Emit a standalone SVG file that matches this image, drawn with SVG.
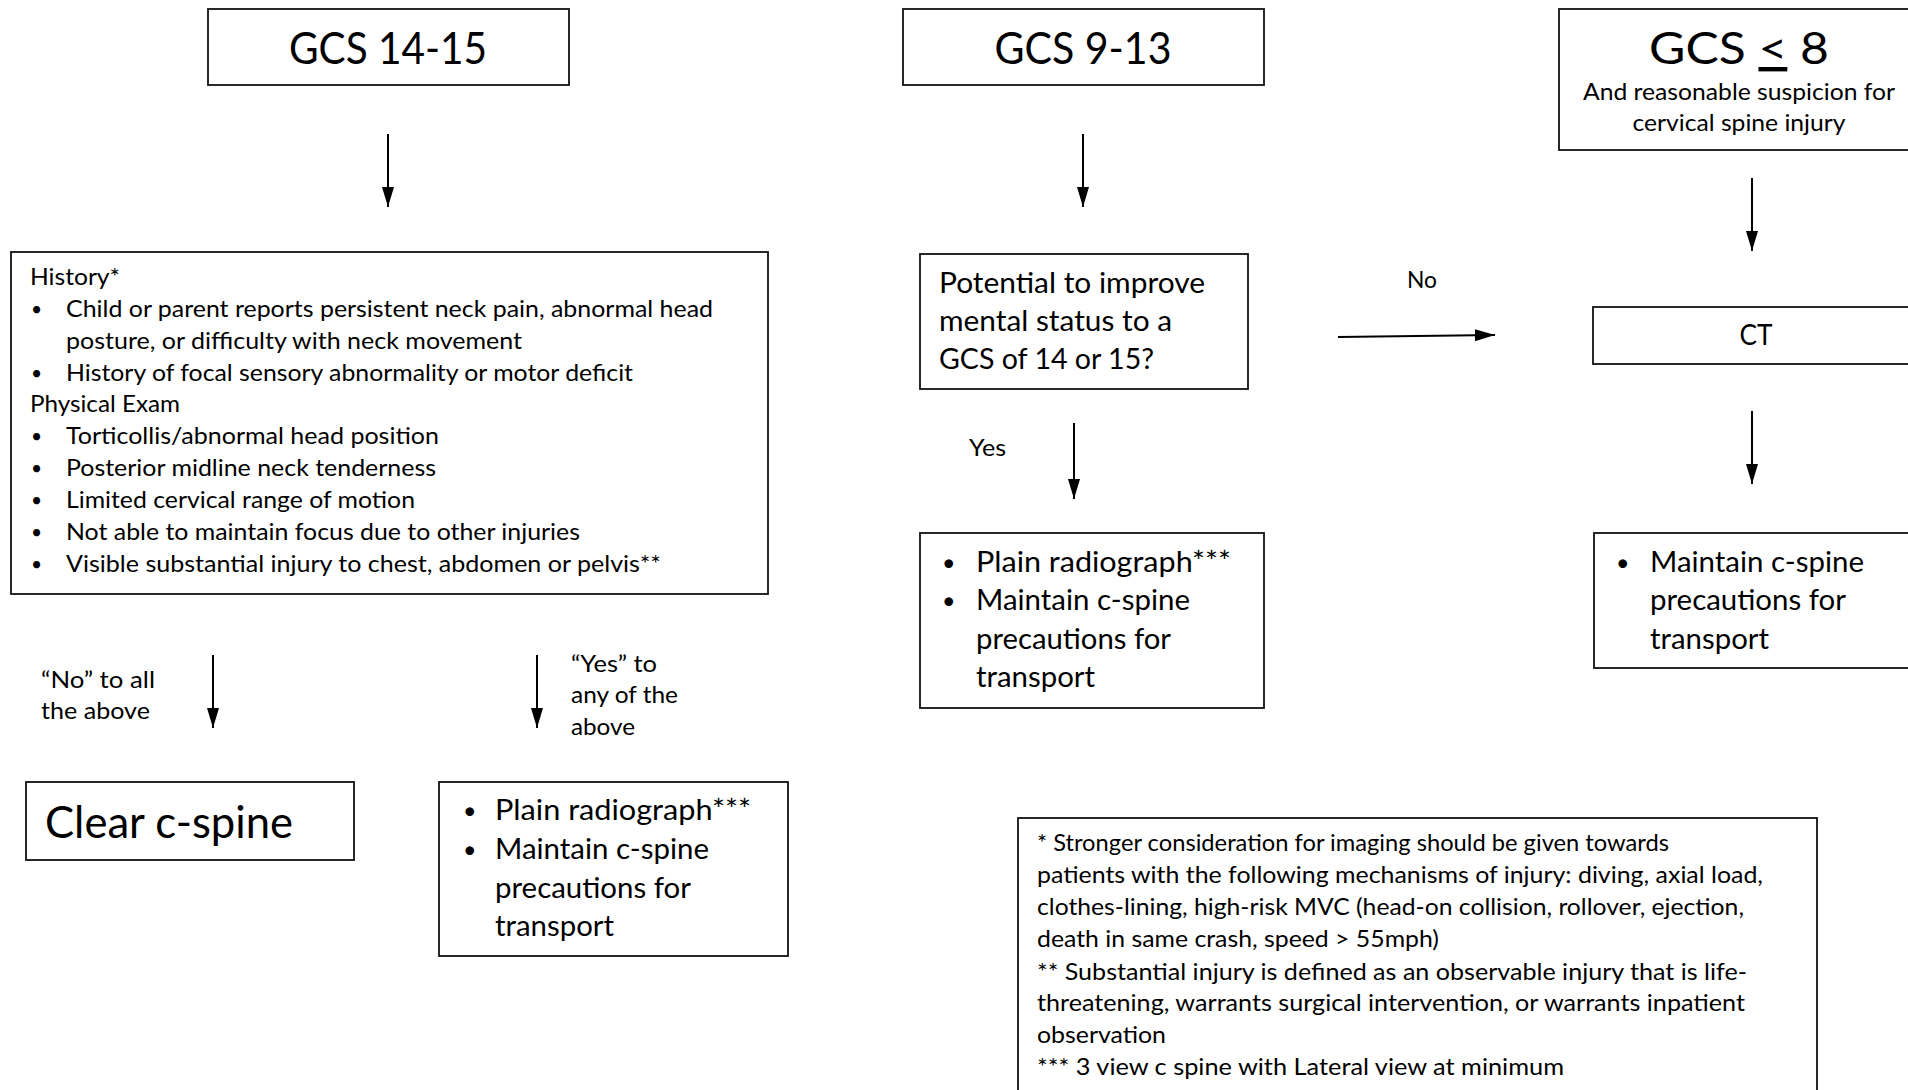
<svg xmlns="http://www.w3.org/2000/svg" width="1908" height="1090" viewBox="0 0 1908 1090">
<style>
.box{fill:#fff;stroke:#111;stroke-width:1.8}
.t{font-family:Lato,"Liberation Sans",sans-serif;fill:#000}
.title{font-size:44px}
.body{font-size:24px}
.mid{font-size:29px}
.big{font-size:44px}
.b{font-size:0.8em}
.conn{stroke:#000;stroke-width:2;fill:none}
</style>
<defs>
<marker id="ah" viewBox="0 0 20 12" refX="20" refY="6" markerWidth="20" markerHeight="12" markerUnits="userSpaceOnUse" orient="auto">
<path d="M0,0 L20,6 L0,12 Z" fill="#000"/>
</marker>
</defs>
<rect width="1908" height="1090" fill="#fff"/>

<g id="connectors">
<line class="conn" x1="388" y1="134" x2="388" y2="207" marker-end="url(#ah)"/>
<line class="conn" x1="213" y1="655" x2="213" y2="728" marker-end="url(#ah)"/>
<line class="conn" x1="537" y1="655" x2="537" y2="728" marker-end="url(#ah)"/>
<line class="conn" x1="1083" y1="134" x2="1083" y2="207" marker-end="url(#ah)"/>
<line class="conn" x1="1074" y1="423" x2="1074" y2="499" marker-end="url(#ah)"/>
<line class="conn" x1="1338" y1="337" x2="1495" y2="335" stroke-width="3" marker-end="url(#ah)"/>
<line class="conn" x1="1752" y1="178" x2="1752" y2="251" marker-end="url(#ah)"/>
<line class="conn" x1="1752" y1="411" x2="1752" y2="484" marker-end="url(#ah)"/>
<text class="t body" x="41" y="688" textLength="114" lengthAdjust="spacingAndGlyphs">“No” to all</text>
<text class="t body" x="41" y="719" textLength="109" lengthAdjust="spacingAndGlyphs">the above</text>
<text class="t body" x="571" y="672" textLength="86" lengthAdjust="spacingAndGlyphs">“Yes” to</text>
<text class="t body" x="571" y="703" textLength="107" lengthAdjust="spacingAndGlyphs">any of the</text>
<text class="t body" x="571" y="735" textLength="64" lengthAdjust="spacingAndGlyphs">above</text>
<text class="t body" x="969" y="456" textLength="37" lengthAdjust="spacingAndGlyphs">Yes</text>
<text class="t body" x="1407" y="288" textLength="30" lengthAdjust="spacingAndGlyphs">No</text>
</g>

<g id="gcs1415">
<rect class="box" x="208" y="9" width="361" height="76"/>
<text class="t title" x="388" y="64" text-anchor="middle" textLength="198" lengthAdjust="spacingAndGlyphs">GCS 14-15</text>
</g>

<g id="history">
<rect class="box" x="11" y="252" width="757" height="342"/>
<g class="t body">
<text x="30" y="285" textLength="90" lengthAdjust="spacingAndGlyphs">History*</text>
<text class="b" x="31" y="316">•</text>
<text x="66" y="317" textLength="647" lengthAdjust="spacingAndGlyphs">Child or parent reports persistent neck pain, abnormal head</text>
<text x="66" y="349" textLength="456" lengthAdjust="spacingAndGlyphs">posture, or difficulty with neck movement</text>
<text class="b" x="31" y="380">•</text>
<text x="66" y="381" textLength="567" lengthAdjust="spacingAndGlyphs">History of focal sensory abnormality or motor deficit</text>
<text x="30" y="412" textLength="150" lengthAdjust="spacingAndGlyphs">Physical Exam</text>
<text class="b" x="31" y="443">•</text>
<text x="66" y="444" textLength="373" lengthAdjust="spacingAndGlyphs">Torticollis/abnormal head position</text>
<text class="b" x="31" y="475">•</text>
<text x="66" y="476" textLength="370" lengthAdjust="spacingAndGlyphs">Posterior midline neck tenderness</text>
<text class="b" x="31" y="507">•</text>
<text x="66" y="508" textLength="349" lengthAdjust="spacingAndGlyphs">Limited cervical range of motion</text>
<text class="b" x="31" y="539">•</text>
<text x="66" y="540" textLength="514" lengthAdjust="spacingAndGlyphs">Not able to maintain focus due to other injuries</text>
<text class="b" x="31" y="571">•</text>
<text x="66" y="572" textLength="595" lengthAdjust="spacingAndGlyphs">Visible substantial injury to chest, abdomen or pelvis**</text>
</g>
</g>

<g id="clear">
<rect class="box" x="26" y="782" width="328" height="78"/>
<text class="t big" x="45" y="838" textLength="248" lengthAdjust="spacingAndGlyphs">Clear c-spine</text>
</g>

<g id="radiograph-left">
<rect class="box" x="439" y="782" width="349" height="174"/>
<g class="t mid">
<text class="b" x="463" y="819">•</text>
<text x="495" y="820" textLength="256" lengthAdjust="spacingAndGlyphs">Plain radiograph***</text>
<text class="b" x="463" y="858">•</text>
<text x="495" y="859" textLength="214" lengthAdjust="spacingAndGlyphs">Maintain c-spine</text>
<text x="495" y="898" textLength="196" lengthAdjust="spacingAndGlyphs">precautions for</text>
<text x="495" y="936" textLength="119" lengthAdjust="spacingAndGlyphs">transport</text>
</g>
</g>

<g id="gcs913">
<rect class="box" x="903" y="9" width="361" height="76"/>
<text class="t title" x="1083" y="64" text-anchor="middle" textLength="177" lengthAdjust="spacingAndGlyphs">GCS 9-13</text>
</g>

<g id="potential">
<rect class="box" x="920" y="254" width="328" height="135"/>
<g class="t mid">
<text x="939" y="293" textLength="266" lengthAdjust="spacingAndGlyphs">Potential to improve</text>
<text x="939" y="331" textLength="233" lengthAdjust="spacingAndGlyphs">mental status to a</text>
<text x="939" y="369" textLength="215" lengthAdjust="spacingAndGlyphs">GCS of 14 or 15?</text>
</g>
</g>

<g id="radiograph-mid">
<rect class="box" x="920" y="533" width="344" height="175"/>
<g class="t mid">
<text class="b" x="942" y="571">•</text>
<text x="976" y="572" textLength="255" lengthAdjust="spacingAndGlyphs">Plain radiograph***</text>
<text class="b" x="942" y="609">•</text>
<text x="976" y="610" textLength="214" lengthAdjust="spacingAndGlyphs">Maintain c-spine</text>
<text x="976" y="649" textLength="195" lengthAdjust="spacingAndGlyphs">precautions for</text>
<text x="976" y="687" textLength="119" lengthAdjust="spacingAndGlyphs">transport</text>
</g>
</g>

<g id="gcs8">
<rect class="box" x="1559" y="9" width="360" height="141"/>
<text class="t title" x="1739" y="64" text-anchor="middle" textLength="180" lengthAdjust="spacingAndGlyphs">GCS <tspan text-decoration="underline">&lt;</tspan> 8</text>
<text class="t body" x="1739" y="100" text-anchor="middle" textLength="312" lengthAdjust="spacingAndGlyphs">And reasonable suspicion for</text>
<text class="t body" x="1739" y="131" text-anchor="middle" textLength="213" lengthAdjust="spacingAndGlyphs">cervical spine injury</text>
</g>

<g id="ct">
<rect class="box" x="1593" y="307" width="330" height="57"/>
<text class="t mid" x="1756" y="345" text-anchor="middle" textLength="33" lengthAdjust="spacingAndGlyphs">CT</text>
</g>

<g id="maintain-right">
<rect class="box" x="1594" y="533" width="330" height="135"/>
<g class="t mid">
<text class="b" x="1616" y="571">•</text>
<text x="1650" y="572" textLength="214" lengthAdjust="spacingAndGlyphs">Maintain c-spine</text>
<text x="1650" y="610" textLength="196" lengthAdjust="spacingAndGlyphs">precautions for</text>
<text x="1650" y="649" textLength="119" lengthAdjust="spacingAndGlyphs">transport</text>
</g>
</g>

<g id="footnotes">
<rect class="box" x="1018" y="818" width="799" height="290"/>
<g class="t body">
<text x="1037" y="851" textLength="632" lengthAdjust="spacingAndGlyphs">* Stronger consideration for imaging should be given towards</text>
<text x="1037" y="883" textLength="726" lengthAdjust="spacingAndGlyphs">patients with the following mechanisms of injury: diving, axial load,</text>
<text x="1037" y="915" textLength="707" lengthAdjust="spacingAndGlyphs">clothes-lining, high-risk MVC (head-on collision, rollover, ejection,</text>
<text x="1037" y="947" textLength="402" lengthAdjust="spacingAndGlyphs">death in same crash, speed &gt; 55mph)</text>
<text x="1037" y="980" textLength="710" lengthAdjust="spacingAndGlyphs">** Substantial injury is defined as an observable injury that is life-</text>
<text x="1037" y="1011" textLength="708" lengthAdjust="spacingAndGlyphs">threatening, warrants surgical intervention, or warrants inpatient</text>
<text x="1037" y="1043" textLength="129" lengthAdjust="spacingAndGlyphs">observation</text>
<text x="1037" y="1075" textLength="527" lengthAdjust="spacingAndGlyphs">*** 3 view c spine with Lateral view at minimum</text>
</g>
</g>
</svg>
